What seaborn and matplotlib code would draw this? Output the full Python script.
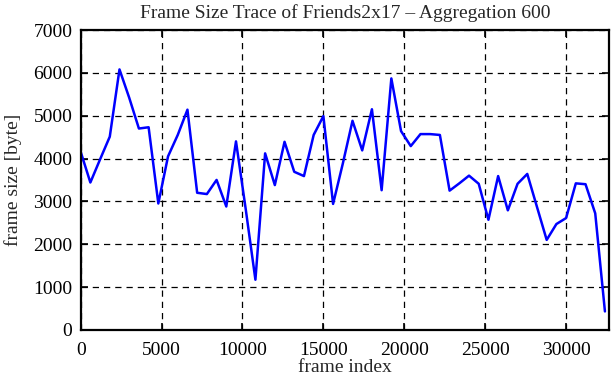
import numpy as np
import pandas as pd
import matplotlib
matplotlib.use("Agg")
import matplotlib.pyplot as plt
import seaborn as sns

# indice de trama (agregacion de 600 tramas)
frame_index = [i * 600 for i in range(55)]

# tamano medio de trama [byte]
frame_size = [4160, 3440, 3980, 4510, 6080, 5420, 4700, 4730, 2950, 4050,
              4550, 5140, 3200, 3170, 3500, 2880, 4400, 2820, 1170, 4120,
              3380, 4390, 3690, 3590, 4550, 4990, 2940, 3880, 4880, 4190,
              5150, 3260, 5870, 4640, 4290, 4570, 4570, 4550, 3250, 3420,
              3600, 3410, 2570, 3590, 2790, 3410, 3640, 2870, 2100, 2470,
              2610, 3420, 3400, 2720, 430]

df = pd.DataFrame({'frame index': frame_index, 'frame size': frame_size})

sns.set_style("ticks")
plt.rcParams['font.family'] = ['Liberation Serif', 'DejaVu Serif']

fig = plt.figure(figsize=(6.11, 3.80), dpi=100)
ax = fig.add_axes([0.132, 0.132, 0.8647, 0.789])

sns.lineplot(data=df, x='frame index', y='frame size', color='#0000ff',
             linewidth=1.8, ax=ax)

ax.set_xlim(0, 32650)
ax.set_ylim(0, 7000)
ax.set_xticks(range(0, 32650, 5000))
ax.set_yticks(range(0, 7001, 1000))

ax.grid(True, color='black', linestyle=(0, (5, 4)), linewidth=0.9)
ax.set_axisbelow(True)

for s in ax.spines.values():
    s.set_visible(True)
    s.set_linewidth(1.6)
    s.set_color('black')

ax.tick_params(direction='in', length=5, width=1.2, top=True, right=True,
               labelsize=14, colors='black')
ax.tick_params(axis='x', pad=9)
ax.tick_params(axis='y', pad=6)

ax.set_xlabel('frame index', fontsize=14, labelpad=0)
ax.set_ylabel('frame size [byte]', fontsize=14, labelpad=8)
ax.set_title('Frame Size Trace of Friends2x17 \u2013 Aggregation 600', fontsize=14, pad=9)

fig.savefig('out.png', dpi=100)
